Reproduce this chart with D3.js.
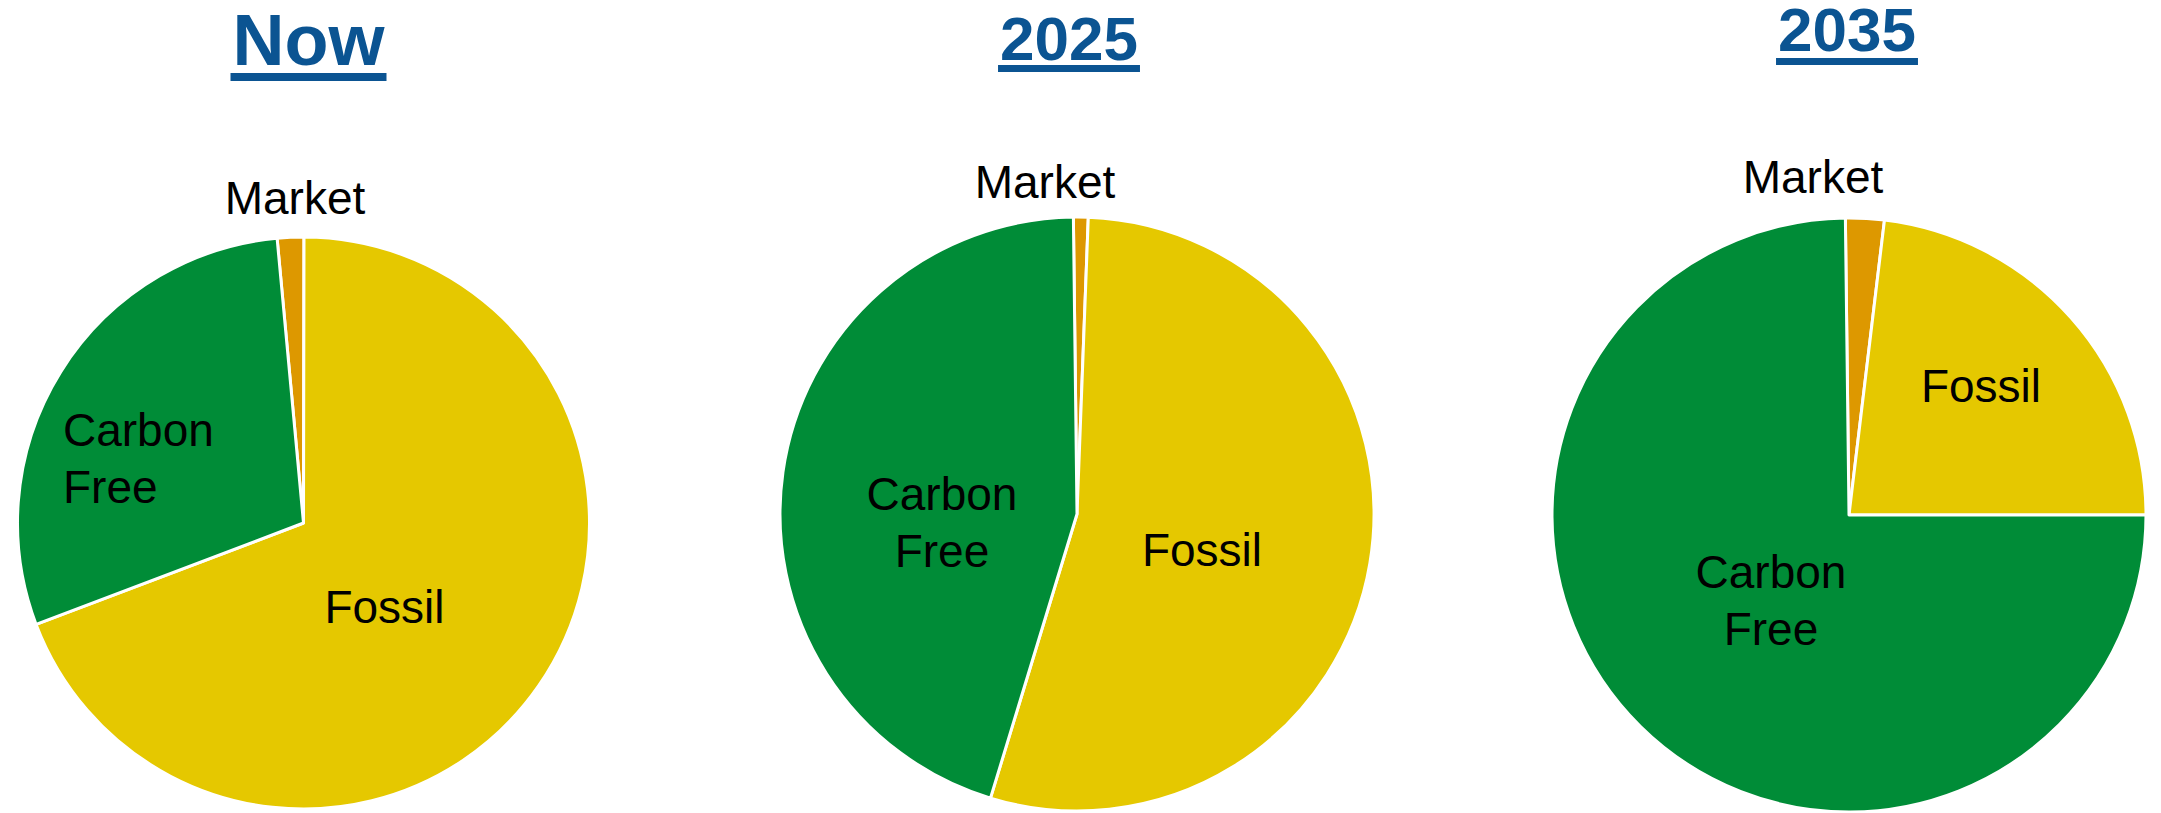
<!DOCTYPE html>
<html>
<head>
<meta charset="utf-8">
<script src="https://cdn.jsdelivr.net/npm/d3@7/dist/d3.min.js"></script>
<style>
  html, body { margin: 0; padding: 0; background: #ffffff; }
  svg { display: block; }
  text { font-family: "Liberation Sans", Arial, Helvetica, sans-serif; }
</style>
</head>
<body>
<script>
// ---- Data ----
const categories = ["Market", "Fossil", "Carbon Free"];
const titles = ["Now", "2025", "2035"];
const valuesNow  = [1.5, 69.2, 29.3];
const values2025 = [0.8, 54.1, 45.1];
const values2035 = [2.1, 23.1, 74.8];
const seriesValues = [valuesNow, values2025, values2035];

// ---- Styling / layout ----
const W = 2161, H = 813;
const colors = { "Market": "#DD9800", "Fossil": "#E5C800", "Carbon Free": "#008C37" };
const titleColor = "#0B5492";
const deg = Math.PI / 180;

const layouts = [
  { cx: 303.5, cy: 523, r: 286, start: -5.3,
    title: { x: 308.5, y: 65, size: 72, ul: 8, ulGap: 8 },
    labels: {
      "Market": { dx: -8.5, dy: -309, anchor: "middle" },
      "Fossil": { dx: 81, dy: 100, anchor: "middle" },
      "Carbon Free": { dx: -240.5, dy: -77, anchor: "start" }
    } },
  { cx: 1077, cy: 514, r: 297, start: -0.7,
    title: { x: 1069, y: 60, size: 62, ul: 7, ulGap: 5 },
    labels: {
      "Market": { dx: -32, dy: -316, anchor: "middle" },
      "Fossil": { dx: 125, dy: 52, anchor: "middle" },
      "Carbon Free": { dx: -135, dy: -4, anchor: "middle" }
    } },
  { cx: 1849, cy: 515, r: 297, start: -0.7,
    title: { x: 1847, y: 51, size: 62, ul: 7, ulGap: 7 },
    labels: {
      "Market": { dx: -36, dy: -322, anchor: "middle" },
      "Fossil": { dx: 132, dy: -113.5, anchor: "middle" },
      "Carbon Free": { dx: -78, dy: 73, anchor: "middle" }
    } }
];
const labelSize = 46;
const lineGap = 56.5;

const svg = d3.select("body").append("svg")
  .attr("width", W).attr("height", H);

layouts.forEach((L, i) => {
  const data = categories.map((c, k) => ({ cat: c, value: seriesValues[i][k] }));
  const pie = d3.pie().sort(null).value(d => d.value)
    .startAngle(L.start * deg).endAngle(L.start * deg + 2 * Math.PI);
  const arc = d3.arc().innerRadius(0).outerRadius(L.r);

  const g = svg.append("g").attr("transform", `translate(${L.cx},${L.cy})`);
  g.selectAll("path.slice").data(pie(data)).enter().append("path")
    .attr("class", "slice")
    .attr("d", arc)
    .attr("fill", d => colors[d.data.cat])
    .attr("stroke", "#ffffff")
    .attr("stroke-width", 3)
    .attr("stroke-linejoin", "round");

  // slice labels
  data.forEach(d => {
    const p = L.labels[d.cat];
    const words = d.cat === "Carbon Free" ? ["Carbon", "Free"] : [d.cat];
    const t = g.append("text")
      .attr("x", p.dx).attr("y", p.dy)
      .attr("text-anchor", p.anchor)
      .attr("font-size", labelSize)
      .attr("fill", "#000000");
    words.forEach((w, k) => {
      t.append("tspan").attr("x", p.dx).attr("y", p.dy + k * lineGap).text(w);
    });
  });

  // title with underline
  const tt = svg.append("text")
    .attr("x", L.title.x).attr("y", L.title.y)
    .attr("text-anchor", "middle")
    .attr("font-size", L.title.size)
    .attr("font-weight", "bold")
    .attr("fill", titleColor)
    .text(titles[i]);
  const tw = tt.node().getComputedTextLength();
  svg.append("rect")
    .attr("x", L.title.x - tw / 2 - 2)
    .attr("y", L.title.y + L.title.ulGap)
    .attr("width", tw + 4)
    .attr("height", L.title.ul)
    .attr("fill", titleColor);
});
</script>
</body>
</html>
